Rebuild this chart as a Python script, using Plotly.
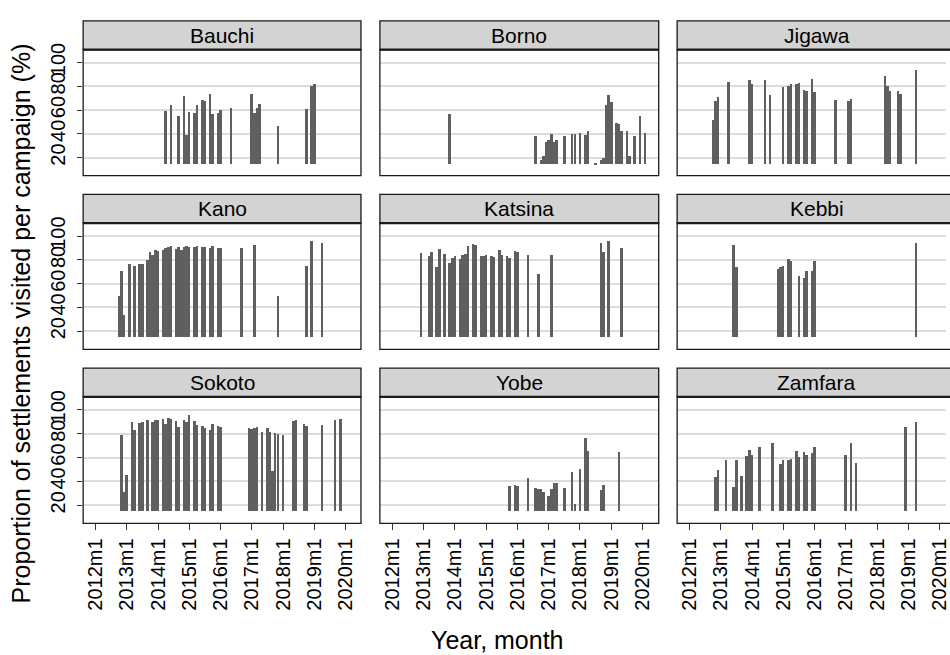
import plotly.graph_objects as go

# ---------------- data ----------------
states = ["Bauchi", "Borno", "Jigawa", "Kano", "Katsina", "Kebbi", "Sokoto", "Yobe", "Zamfara"]

bauchi_months = ["2014m4", "2014m6", "2014m9", "2014m11", "2014m12", "2015m1", "2015m3", "2015m4",
                 "2015m6", "2015m7", "2015m9", "2015m10", "2015m12", "2016m1", "2016m5", "2017m1",
                 "2017m2", "2017m3", "2017m4", "2017m11", "2018m10", "2018m12", "2019m1"]
bauchi_values = [59.4, 64.4, 55.3, 72.0, 39.4, 58.6, 57.8, 64.4, 69.2, 67.8, 74.2, 57.2, 58.3, 60.3,
                 62.0, 73.6, 57.8, 61.7, 65.3, 47.0, 61.1, 80.3, 82.0]

borno_months = ["2013m11", "2016m8", "2016m10", "2016m11", "2016m12", "2017m1", "2017m2", "2017m3",
                "2017m4", "2017m7", "2017m10", "2017m11", "2018m1", "2018m3", "2018m4", "2018m7",
                "2018m9", "2018m10", "2018m11", "2018m12", "2019m1", "2019m3", "2019m4", "2019m5",
                "2019m7", "2019m8", "2019m10", "2019m12", "2020m2"]
borno_values = [56.7, 38.6, 18.3, 22.0, 33.6, 35.3, 40.0, 33.9, 35.3, 38.6, 40.3, 40.3, 41.1, 39.7,
                42.8, 15.5, 18.6, 19.7, 65.0, 73.3, 67.0, 49.4, 48.9, 42.8, 42.8, 22.0, 38.6, 55.8, 41.1]

jigawa_months = ["2012m10", "2012m11", "2012m12", "2013m4", "2013m12", "2014m1", "2014m6", "2014m8",
                 "2015m1", "2015m3", "2015m4", "2015m6", "2015m7", "2015m9", "2015m10", "2015m12",
                 "2016m1", "2016m9", "2017m2", "2017m3", "2018m4", "2018m5", "2018m6", "2018m9",
                 "2018m10", "2019m4"]
jigawa_values = [52.0, 67.8, 71.1, 83.6, 85.3, 81.9, 85.3, 72.8, 79.7, 80.3, 81.9, 81.9, 82.8, 76.9,
                 76.1, 86.1, 75.3, 69.2, 68.3, 69.4, 89.4, 80.3, 76.1, 76.1, 73.6, 94.4]

kano_months = ["2012m10", "2012m11", "2012m12", "2013m2", "2013m4", "2013m6", "2013m7", "2013m9",
               "2013m10", "2013m11", "2013m12", "2014m1", "2014m3", "2014m4", "2014m5", "2014m6",
               "2014m8", "2014m9", "2014m10", "2014m11", "2014m12", "2015m1", "2015m3", "2015m4",
               "2015m6", "2015m7", "2015m9", "2015m10", "2015m12", "2016m1", "2016m9", "2017m2",
               "2017m11", "2018m10", "2018m12", "2019m4"]
kano_values = [49.2, 70.3, 33.9, 76.1, 74.7, 76.4, 76.4, 79.7, 86.4, 84.2, 88.1, 87.2, 88.1, 89.7,
               90.6, 91.4, 88.9, 90.6, 88.3, 90.6, 91.7, 90.8, 90.8, 91.4, 90.6, 90.6, 90.0, 91.4,
               90.0, 90.0, 89.7, 92.5, 49.7, 74.7, 95.6, 94.2]

katsina_months = ["2012m12", "2013m3", "2013m4", "2013m6", "2013m7", "2013m9", "2013m11", "2013m12",
                  "2014m1", "2014m3", "2014m4", "2014m5", "2014m6", "2014m8", "2014m9", "2014m11",
                  "2014m12", "2015m1", "2015m3", "2015m4", "2015m6", "2015m7", "2015m9", "2015m10",
                  "2015m12", "2016m1", "2016m5", "2016m9", "2017m2", "2018m9", "2018m10", "2018m12",
                  "2019m5"]
katsina_values = [85.8, 83.3, 86.4, 74.2, 88.9, 84.7, 77.5, 81.7, 83.3, 80.6, 83.9, 85.0, 91.7, 93.1,
                  92.2, 83.3, 83.1, 84.2, 83.3, 82.5, 88.3, 84.2, 83.3, 81.7, 87.2, 86.7, 84.2, 68.3,
                  84.2, 94.2, 86.7, 95.6, 89.7]

kebbi_months = ["2013m6", "2013m7", "2014m11", "2014m12", "2015m1", "2015m3", "2015m4", "2015m7",
                "2015m9", "2015m10", "2015m12", "2016m1", "2019m4"]
kebbi_values = [92.2, 73.9, 72.2, 73.6, 74.7, 80.3, 78.9, 66.4, 64.7, 70.6, 70.8, 78.9, 93.9]

sokoto_months = ["2012m11", "2012m12", "2013m1", "2013m3", "2013m4", "2013m6", "2013m7", "2013m9",
                 "2013m11", "2013m12", "2014m1", "2014m3", "2014m4", "2014m5", "2014m6", "2014m8",
                 "2014m9", "2014m11", "2014m12", "2015m1", "2015m3", "2015m4", "2015m6", "2015m7",
                 "2015m9", "2015m10", "2015m12", "2016m1", "2016m12", "2017m1", "2017m2", "2017m3",
                 "2017m5", "2017m7", "2017m8", "2017m9", "2017m10", "2017m11", "2018m1", "2018m5",
                 "2018m6", "2018m9", "2018m10", "2019m4", "2019m9", "2019m11"]
sokoto_values = [79.2, 31.4, 45.3, 89.7, 83.1, 89.4, 90.3, 91.9, 89.7, 91.7, 91.4, 92.2, 88.3, 93.1,
                 92.8, 91.1, 85.8, 91.9, 89.7, 95.8, 91.1, 87.5, 86.9, 85.3, 83.6, 88.1, 86.4, 86.1,
                 84.7, 84.2, 84.7, 86.1, 81.4, 84.7, 81.7, 49.2, 80.8, 80.0, 79.2, 91.1, 91.9, 88.1,
                 86.9, 87.2, 91.9, 92.5]

yobe_months = ["2015m10", "2015m12", "2016m1", "2016m5", "2016m8", "2016m9", "2016m10", "2016m11",
               "2017m1", "2017m2", "2017m3", "2017m4", "2017m7", "2017m10", "2017m11", "2018m1",
               "2018m3", "2018m4", "2018m9", "2018m10", "2019m4"]
yobe_values = [36.4, 37.2, 36.4, 43.3, 34.7, 34.2, 33.9, 31.4, 28.1, 33.9, 38.9, 38.9, 35.0, 47.8,
               21.4, 50.3, 76.4, 65.3, 33.3, 37.5, 64.7]

zamfara_months = ["2012m11", "2012m12", "2013m3", "2013m6", "2013m7", "2013m9", "2013m11", "2013m12",
                  "2014m1", "2014m4", "2014m9", "2014m12", "2015m1", "2015m3", "2015m4", "2015m6",
                  "2015m7", "2015m9", "2015m10", "2015m12", "2016m1", "2017m1", "2017m3", "2017m5",
                  "2018m12", "2019m4"]
zamfara_values = [44.2, 49.7, 58.1, 35.8, 58.1, 44.7, 61.4, 66.7, 62.5, 68.9, 72.5, 54.7, 58.3, 58.3,
                  58.9, 65.8, 60.6, 64.7, 62.2, 64.2, 68.9, 62.2, 72.2, 55.5, 85.5, 89.7]

tick_years = [2012, 2013, 2014, 2015, 2016, 2017, 2018, 2019, 2020]
tick_labels = ["2012m1", "2013m1", "2014m1", "2015m1", "2016m1", "2017m1", "2018m1", "2019m1", "2020m1"]
y_ticks = [20, 40, 60, 80, 100]
bar_base = 15

series = {
    "Bauchi": (bauchi_months, bauchi_values),
    "Borno": (borno_months, borno_values),
    "Jigawa": (jigawa_months, jigawa_values),
    "Kano": (kano_months, kano_values),
    "Katsina": (katsina_months, katsina_values),
    "Kebbi": (kebbi_months, kebbi_values),
    "Sokoto": (sokoto_months, sokoto_values),
    "Yobe": (yobe_months, yobe_values),
    "Zamfara": (zamfara_months, zamfara_values),
}


def to_x(s):
    y, m = s.split("m")
    return int(y) + (int(m) - 1) / 12.0


# ---------------- geometry ----------------
W, H = 950, 655
FONT = "Liberation Sans, Arial, Helvetica, sans-serif"
col_px = [(83.5, 362.5), (381.5, 661.5), (680.0, 960.0)]
row_px = [(14.0, 43.0, 170.5), (189.5, 218.5, 346.0), (365.0, 394.0, 522.0)]
px_per_year = 31.41
x_lo = 2011.605
y_range = [4.8, 110.9]

fig = go.Figure()
layout = dict(
    width=W, height=H,
    margin=dict(l=0, r=0, t=0, b=0),
    paper_bgcolor="white", plot_bgcolor="white",
    showlegend=False,
    font=dict(family=FONT, color="black"),
)
shapes = []
annotations = []

for i, st in enumerate(states):
    r, c = divmod(i, 3)
    n = i + 1
    xs_key = "xaxis" if n == 1 else f"xaxis{n}"
    ys_key = "yaxis" if n == 1 else f"yaxis{n}"
    xref = "x" if n == 1 else f"x{n}"
    yref = "y" if n == 1 else f"y{n}"
    left, right = col_px[c]
    vis_right = min(right, W)
    strip_top, ptop, pbot = row_px[r]

    months, vals = series[st]
    assert len(months) == len(vals), st
    xs = [to_x(m) for m in months]
    fig.add_trace(go.Bar(
        x=xs, y=[v - bar_base for v in vals], base=bar_base,
        width=0.98 / 12, marker=dict(color="#5f5f5f", line=dict(width=0)),
        xaxis=xref, yaxis=yref, showlegend=False,
        customdata=vals, hovertemplate="%{customdata}<extra></extra>",
    ))

    bottom_row = (r == 2)
    layout[xs_key] = dict(
        domain=[left / W, vis_right / W],
        range=[x_lo, x_lo + (vis_right - left) / px_per_year],
        anchor=yref, showgrid=False, zeroline=False, showline=False,
        tickmode="array", tickvals=tick_years, ticktext=tick_labels,
        ticks="outside" if bottom_row else "", ticklen=6, tickwidth=1.2, tickcolor="#333333",
        showticklabels=bottom_row, tickangle=-90, ticklabeloverflow="allow",
        tickfont=dict(family=FONT, size=20, color="black"),
    )
    first_col = (c == 0)
    layout[ys_key] = dict(
        domain=[1 - pbot / H, 1 - ptop / H],
        range=y_range, anchor=xref,
        showgrid=True, gridcolor="#dcdcdc", gridwidth=1.5, zeroline=False, showline=False,
        tickmode="array", tickvals=y_ticks,
        ticks="outside" if first_col else "", ticklen=5, tickwidth=1.2, tickcolor="#333333",
        showticklabels=first_col, tickangle=-90, ticklabelstandoff=4,
        tickfont=dict(family=FONT, size=20, color="black"),
    )

    # panel border
    shapes.append(dict(type="rect", xref="paper", yref="paper",
                       x0=left / W, x1=right / W, y0=1 - pbot / H, y1=1 - ptop / H,
                       line=dict(color="#1a1a1a", width=1.3), fillcolor="rgba(0,0,0,0)",
                       layer="above"))
    # strip
    shapes.append(dict(type="rect", xref="paper", yref="paper",
                       x0=left / W, x1=right / W, y0=1 - ptop / H, y1=1 - strip_top / H,
                       line=dict(color="#1a1a1a", width=1.3), fillcolor="#d3d3d3",
                       layer="above"))
    shapes.append(dict(type="line", xref="paper", yref="paper",
                       x0=left / W, x1=right / W, y0=1 - ptop / H, y1=1 - ptop / H,
                       line=dict(color="#1a1a1a", width=2.2), layer="above"))
    annotations.append(dict(text=st, xref="paper", yref="paper",
                            x=(left + right) / 2 / W, y=1 - (strip_top + ptop) / 2 / H,
                            xanchor="center", yanchor="middle", showarrow=False,
                            font=dict(family=FONT, size=21, color="black")))

annotations.append(dict(text="Proportion of settlements visited per campaign (%)",
                        xref="paper", yref="paper", x=21 / W, y=1 - 320 / H,
                        xanchor="center", yanchor="middle", textangle=-90, showarrow=False,
                        font=dict(family=FONT, size=25, color="black")))
annotations.append(dict(text="Year, month", xref="paper", yref="paper",
                        x=500 / W, y=1 - 640 / H, xanchor="center", yanchor="middle",
                        showarrow=False, font=dict(family=FONT, size=25, color="black")))

layout["shapes"] = shapes
layout["annotations"] = annotations
layout["bargap"] = 0
fig.update_layout(**layout)
fig.write_html("out.html")
